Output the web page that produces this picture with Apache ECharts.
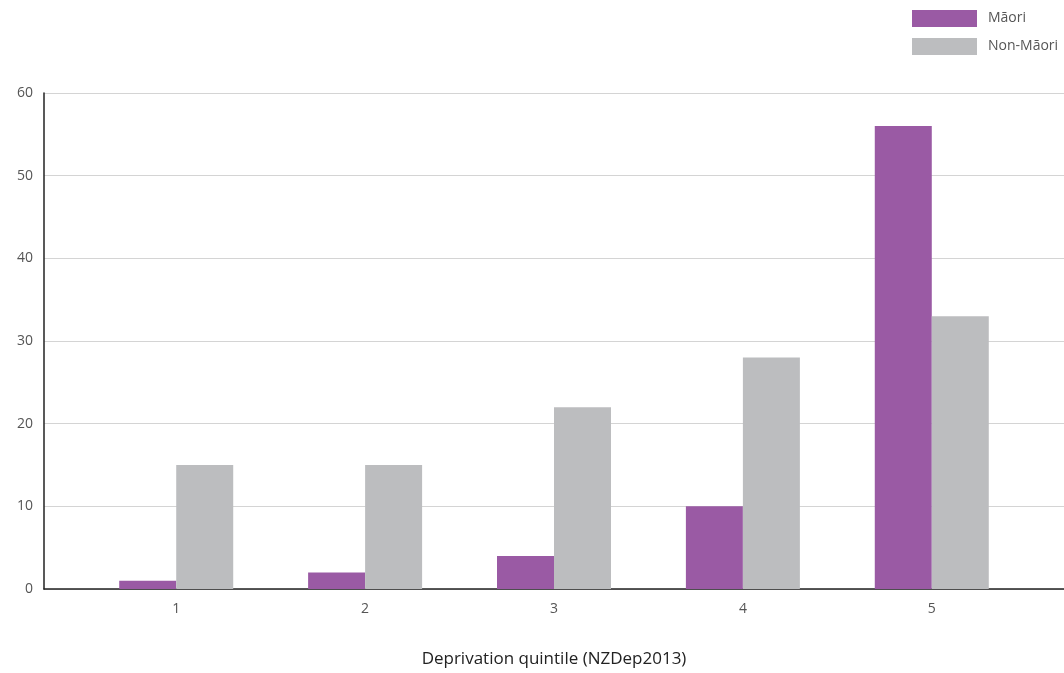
<!DOCTYPE html>
<html>
<head>
<meta charset="utf-8">
<script src="https://cdn.jsdelivr.net/npm/echarts@6/dist/echarts.min.js"></script>
<style>
html,body{margin:0;padding:0;background:#fff;}
#chart{width:1064px;height:673px;}
</style>
</head>
<body>
<div id="chart"></div>
<script>
const categories = ['1', '2', '3', '4', '5'];
const maori = [1, 2, 4, 10, 56];
const nonMaori = [15, 15, 22, 28, 33];
const yTicks = [0, 10, 20, 30, 40, 50, 60];
const seriesNames = ['Māori', 'Non-Māori'];

const font = '"Open Sans", "Noto Sans", sans-serif';
const chart = echarts.init(document.getElementById('chart'), null, {renderer: 'canvas'});
const pos = categories.map((c, i) => i + 1);

chart.setOption({
  animation: false,
  backgroundColor: '#ffffff',
  legend: {
    orient: 'vertical',
    left: 912,
    top: 10,
    padding: 0,
    itemWidth: 65,
    itemHeight: 17,
    itemGap: 11,
    icon: 'rect',
    textStyle: {fontFamily: font, fontSize: 14, color: '#555555', padding: [0, 0, 0, 6]},
    data: seriesNames
  },
  grid: {left: 44, right: 0, top: 93, bottom: 80, containLabel: false},
  xAxis: {
    type: 'value',
    min: 0.3,
    max: 5.7,
    splitLine: {show: false},
    axisTick: {show: false},
    axisLine: {show: true, onZero: false, lineStyle: {color: '#222222', width: 1.5}},
    axisLabel: {
      customValues: pos,
      formatter: v => categories[Math.round(v) - 1] || '',
      fontFamily: font, fontSize: 14, color: '#555555', margin: 13
    },
    name: 'Deprivation quintile (NZDep2013)',
    nameLocation: 'middle',
    nameGap: 62,
    nameTextStyle: {fontFamily: font, fontSize: 17, color: '#222222'}
  },
  yAxis: {
    type: 'value',
    min: yTicks[0],
    max: yTicks[yTicks.length - 1],
    interval: 10,
    axisLine: {show: true, lineStyle: {color: '#222222', width: 1.5}},
    axisTick: {show: false},
    splitLine: {show: true, lineStyle: {color: '#d4d4d4', width: 1}},
    axisLabel: {fontFamily: font, fontSize: 14, color: '#555555', margin: 11}
  },
  series: [
    {
      name: seriesNames[0],
      type: 'bar',
      barWidth: 57,
      barGap: '0%',
      itemStyle: {color: '#9a5aa4'},
      data: maori.map((v, i) => [pos[i], v])
    },
    {
      name: seriesNames[1],
      type: 'bar',
      barWidth: 57,
      barGap: '0%',
      itemStyle: {color: '#bcbdbf'},
      data: nonMaori.map((v, i) => [pos[i], v])
    }
  ]
});
</script>
</body>
</html>
